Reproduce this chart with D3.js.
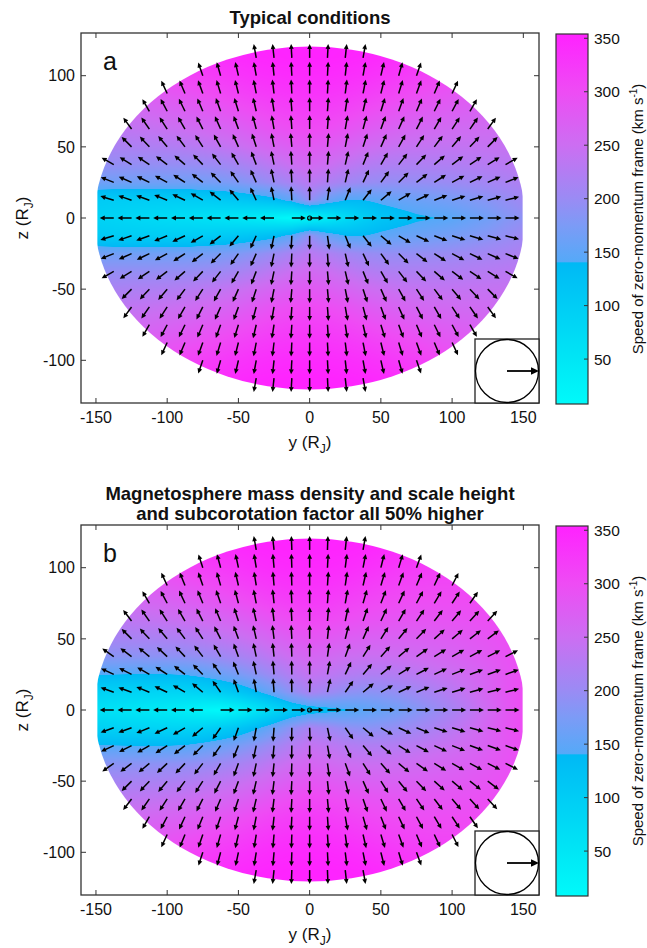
<!DOCTYPE html>
<html>
<head>
<meta charset="utf-8">
<script src="https://cdn.jsdelivr.net/npm/d3@7"></script>
<style>
  body { margin: 0; background: #fff; }
  svg text { font-family: "Liberation Sans", Arial, Helvetica, sans-serif; fill: #111; }
</style>
</head>
<body>
<svg id="fig" width="647" height="948"></svg>
<script>
// ---- data ----
// speed grid (km/s), upper half z >= 0; the lower half mirrors it
const SPEED_COLS = [-150,-137.5,-125,-112.5,-100,-87.5,-75,-62.5,-50,-37.5,-25,-12.5,0,12.5,25,37.5,50,62.5,75,87.5,100,112.5,125,137.5,150];
const SPEED_ROWS = [0,12.5,25,37.5,50,62.5,75,87.5,100,112.5,125];

const SPEED_A = [
  [ 90, 85, 80, 75, 70, 65, 60, 55, 48, 38, 25, 12, 15, 40, 70, 95,115,125,135,140,145,155,165,180,190],
  [105,102,100,100,100,100,102,106,112,120,130,150,195,160,140,140,148,155,160,165,170,177,185,195,205],
  [165,165,165,165,165,165,168,172,178,188,200,215,232,220,208,200,196,195,196,198,201,205,210,215,220],
  [195,195,195,195,196,197,200,204,212,222,235,248,258,250,238,228,222,220,220,221,222,225,228,231,234],
  [215,216,218,220,222,226,231,237,245,255,265,275,282,275,265,255,248,243,241,240,240,241,242,243,245],
  [235,236,238,241,245,250,256,263,270,280,290,298,303,298,290,280,272,265,260,257,255,254,253,252,252],
  [250,252,255,259,264,270,277,285,293,301,309,315,318,315,309,301,293,286,280,275,271,268,265,263,262],
  [265,268,272,277,283,290,297,305,313,320,326,330,332,330,326,320,313,306,299,292,286,280,276,273,270],
  [280,284,289,295,302,309,316,323,330,336,340,343,344,343,340,336,330,323,316,309,302,295,289,284,280],
  [295,300,306,312,318,325,332,338,343,347,350,352,353,352,350,347,343,338,332,325,318,312,306,300,295],
  [310,316,322,328,334,340,345,348,350,352,353,353,353,353,353,352,350,348,345,340,334,328,322,316,310]
];
const SPEED_B = [
  [ 60, 55, 50, 45, 40, 32, 18, 10, 25, 50, 80,105,120,130,138,146,155,165,180,195,212,232,255,280,300],
  [ 92, 90, 88, 86, 85, 85, 90,100,115,135,160,190,215,205,192,187,190,196,205,216,230,246,265,285,300],
  [142,141,140,140,140,142,150,160,172,187,205,225,242,236,227,222,222,226,232,240,248,258,270,285,298],
  [185,186,187,188,189,191,196,203,212,223,238,252,263,257,250,247,247,250,254,259,265,272,280,290,300],
  [210,211,213,215,217,221,227,234,242,252,264,276,286,281,274,270,268,268,270,273,277,282,288,295,302],
  [230,232,235,238,242,247,253,260,268,278,289,299,306,302,296,291,288,286,286,287,289,292,296,300,305],
  [248,251,255,259,264,270,277,285,293,302,311,318,322,319,313,307,302,299,297,297,298,300,303,306,310],
  [265,268,272,277,283,290,297,305,313,321,328,333,335,333,328,322,316,311,308,306,306,307,309,312,315],
  [280,284,289,295,302,309,316,323,330,337,342,345,346,345,342,337,331,325,320,317,316,316,318,320,322],
  [295,300,306,312,318,325,332,338,343,347,350,352,353,352,350,347,343,338,333,329,326,325,326,327,328],
  [310,316,322,328,334,340,345,348,350,352,353,353,353,353,353,352,350,348,345,341,337,335,334,334,334]
];

// arrow directions (degrees counter-clockwise from +y), upper half; lower half mirrors
const ARROW_COLS = [-137.5,-125,-112.5,-100,-87.5,-75,-62.5,-50,-37.5,-25,-12.5,0,12.5,25,37.5,50,62.5,75,87.5,100,112.5,125,137.5];
const ARROW_ROWS = [0,12.5,25,37.5,50,62.5,75,87.5,100,112.5];
const _ = null;

const ANGLE_A = [
  [180,180,180,180,180,180,180,180,180,180,0,0,0,0,0,0,0,0,0,0,0,0,0],
  [163,161,160,158,155,150,142,130,115,102,93,90,82,68,52,40,31,25,21,18,16,15,14],
  [158,156,154,151,147,142,135,125,114,102,93,90,86,77,65,54,45,38,33,29,26,24,22],
  [150,148,146,143,139,134,128,120,111,102,94,90,85,77,68,60,52,46,41,37,34,32,30],
  [_,135,133,130,127,123,119,114,108,101,95,90,85,79,72,66,61,57,53,50,47,45,_],
  [_,126,125,123,120,117,114,110,105,100,94,90,86,80,75,70,66,63,60,57,55,54,_],
  [_,_,120,118,116,113,110,107,103,99,94,90,86,81,77,73,70,67,64,62,60,_,_],
  [_,_,_,115,113,110,107,104,101,97,93,90,87,83,79,76,73,70,67,65,_,_,_],
  [_,_,_,_,_,109,106,103,100,96,93,90,87,84,80,77,74,71,_,_,_,_,_],
  [_,_,_,_,_,_,_,_,100,96,93,90,87,84,80,_,_,_,_,_,_,_,_]
];
const ANGLE_B = [
  [180,180,180,180,180,180,0,0,0,0,0,0,0,0,0,0,0,0,0,0,0,0,0],
  [160,160,158,155,150,140,125,110,100,94,91,88,78,55,40,30,25,22,18,17,15,14,14],
  [155,153,150,147,142,135,125,112,102,95,91,90,80,65,50,40,32,28,25,22,20,20,20],
  [145,143,140,137,133,128,120,110,102,96,92,90,82,70,58,48,40,35,32,30,28,27,27],
  [_,135,133,130,127,123,117,110,103,97,93,90,84,76,66,58,51,46,42,40,38,37,_],
  [_,127,125,123,120,117,113,108,103,97,93,90,85,78,71,65,60,56,53,50,48,47,_],
  [_,_,120,118,115,112,109,105,101,96,93,90,86,80,74,69,65,62,59,57,55,_,_],
  [_,_,_,115,112,109,106,103,99,95,92,90,86,82,77,73,70,67,65,63,_,_,_],
  [_,_,_,_,_,108,105,102,99,95,92,90,87,83,79,76,73,70,_,_,_,_,_],
  [_,_,_,_,_,_,_,_,100,96,92,90,88,84,80,_,_,_,_,_,_,_,_]
];

const Y_TICKS = [-150,-100,-50,0,50,100,150];
const Z_TICKS = [-100,-50,0,50,100];
const CBAR_TICKS = [50,100,150,200,250,300,350];
const CBAR_DOMAIN = [8, 354];
const CMAP_VALUES = [8, 50, 100, 140, 141, 175, 200, 250, 300, 354];
const CMAP_COLORS = ['#00fafa','#00e6f5','#00cdf5','#00b9f5','#55a9f8','#7c9bf6','#9a8bf4','#cc6ef2','#ee4cf4','#ff22ff'];

// ---- layout ----
const svg = d3.select('#fig');
const x = d3.scaleLinear().domain([-160.5, 161]).range([81, 539]);
const z = d3.scaleLinear().domain([-130, 130]).range([403, 33]);
const cb = d3.scaleLinear().domain(CBAR_DOMAIN).range([404, 34]);
const color = d3.scaleLinear().domain(CMAP_VALUES).range(CMAP_COLORS).clamp(true);
// grid index scales for the speed table
const colIdx = d3.scaleLinear().domain([SPEED_COLS[0], SPEED_COLS[SPEED_COLS.length - 1]]).range([0, SPEED_COLS.length - 1]).clamp(true);
const rowIdx = d3.scaleLinear().domain([0, SPEED_ROWS[SPEED_ROWS.length - 1]]).range([0, SPEED_ROWS.length - 1]).clamp(true);

const panels = [
  { key: 'a', dy: 0,   speed: SPEED_A, angle: ANGLE_A,
    title: ['Typical conditions'], titleY: [24] },
  { key: 'b', dy: 492, speed: SPEED_B, angle: ANGLE_B,
    title: ['Magnetosphere mass density and scale height', 'and subcorotation factor all 50% higher'],
    titleY: [8, 28] }
];

const defs = svg.append('defs');

// colorbar gradient
const grad = defs.append('linearGradient').attr('id', 'cbgrad')
  .attr('x1', 0).attr('y1', 1).attr('x2', 0).attr('y2', 0);
CMAP_VALUES.forEach((v, i) => {
  grad.append('stop')
    .attr('offset', (v - CBAR_DOMAIN[0]) / (CBAR_DOMAIN[1] - CBAR_DOMAIN[0]))
    .attr('stop-color', CMAP_COLORS[i]);
});

// paint the speed table onto a canvas, one canvas pixel per screen pixel
function fieldImage(speed) {
  const [px0, px1] = x.range(), [py1, py0] = z.range();
  const w = px1 - px0, h = py1 - py0;
  const cv = document.createElement('canvas');
  cv.width = w; cv.height = h;
  const ctx = cv.getContext('2d');
  const img = ctx.createImageData(w, h);
  for (let j = 0; j < h; j++) {
    const fr = rowIdx(Math.abs(z.invert(py0 + j + 0.5)));
    const r0 = Math.floor(fr), r1 = Math.min(r0 + 1, SPEED_ROWS.length - 1), tr = fr - r0;
    for (let i = 0; i < w; i++) {
      const fc = colIdx(x.invert(px0 + i + 0.5));
      const c0 = Math.floor(fc), c1 = Math.min(c0 + 1, SPEED_COLS.length - 1), tc = fc - c0;
      const v = (speed[r0][c0] * (1 - tc) + speed[r0][c1] * tc) * (1 - tr) +
                (speed[r1][c0] * (1 - tc) + speed[r1][c1] * tc) * tr;
      const col = d3.rgb(color(v));
      const k = (j * w + i) * 4;
      img.data[k] = col.r; img.data[k + 1] = col.g; img.data[k + 2] = col.b; img.data[k + 3] = 255;
    }
  }
  ctx.putImageData(img, 0, 0);
  return cv.toDataURL();
}

function arrow(g, px, py, deg, len, head, half, sw) {
  const t = deg * Math.PI / 180;
  const ux = Math.cos(t), uy = -Math.sin(t);
  const tx = px + ux * len, ty = py + uy * len;
  const bx = tx - ux * head, by = ty - uy * head;
  g.append('line')
    .attr('x1', px).attr('y1', py).attr('x2', bx + ux * 0.5).attr('y2', by + uy * 0.5)
    .attr('stroke', '#000').attr('stroke-width', sw);
  g.append('path')
    .attr('d', `M${tx},${ty}L${bx - uy * half},${by + ux * half}L${bx + uy * half},${by - ux * half}Z`)
    .attr('fill', '#000');
}

panels.forEach(p => {
  const g = svg.append('g').attr('transform', `translate(0,${p.dy})`);

  // title
  p.title.forEach((t, i) => {
    g.append('text').attr('x', 310).attr('y', p.titleY[i])
      .attr('text-anchor', 'middle').attr('font-size', 18.5).attr('font-weight', 'bold').text(t);
  });

  // field, clipped to the magnetosphere cross-section
  defs.append('clipPath').attr('id', 'ell-' + p.key)
    .append('ellipse').attr('cx', x(0)).attr('cy', z(0))
    .attr('rx', x(151) - x(0)).attr('ry', z(0) - z(120.5));
  defs.append('clipPath').attr('id', 'box-' + p.key)
    .append('rect').attr('x', x(-149)).attr('y', z(130)).attr('width', x(149.5) - x(-149)).attr('height', z(-130) - z(130));
  g.append('g').attr('clip-path', `url(#box-${p.key})`)
    .append('image')
    .attr('clip-path', `url(#ell-${p.key})`)
    .attr('href', fieldImage(p.speed))
    .attr('x', x.range()[0]).attr('y', z.range()[1])
    .attr('width', x.range()[1] - x.range()[0]).attr('height', z.range()[0] - z.range()[1])
    .attr('preserveAspectRatio', 'none');

  // arrows
  const ga = g.append('g');
  ARROW_ROWS.forEach((zv, ri) => {
    ARROW_COLS.forEach((yv, ci) => {
      const a = p.angle[ri][ci];
      if (a === null) return;
      arrow(ga, x(yv), z(zv), a, 14, 5, 2.4, 1.5);
      if (zv > 0) arrow(ga, x(yv), z(-zv), -a, 14, 5, 2.4, 1.5);
    });
  });
  ga.append('circle').attr('cx', x(0)).attr('cy', z(0)).attr('r', 2)
    .attr('fill', 'none').attr('stroke', '#000').attr('stroke-width', 1.2);

  // frame + ticks
  const [x0, x1] = x.range(), [y1, y0] = z.range();
  g.append('rect').attr('x', x0).attr('y', y0).attr('width', x1 - x0).attr('height', y1 - y0)
    .attr('fill', 'none').attr('stroke', '#333').attr('stroke-width', 1.3);
  Y_TICKS.forEach(v => {
    g.append('line').attr('x1', x(v)).attr('x2', x(v)).attr('y1', y1).attr('y2', y1 - 5).attr('stroke', '#333');
    g.append('line').attr('x1', x(v)).attr('x2', x(v)).attr('y1', y0).attr('y2', y0 + 5).attr('stroke', '#333');
    g.append('text').attr('x', x(v)).attr('y', 423).attr('text-anchor', 'middle').attr('font-size', 16).text(String(v));
  });
  Z_TICKS.forEach(v => {
    g.append('line').attr('x1', x0).attr('x2', x0 + 5).attr('y1', z(v)).attr('y2', z(v)).attr('stroke', '#333');
    g.append('line').attr('x1', x1).attr('x2', x1 - 5).attr('y1', z(v)).attr('y2', z(v)).attr('stroke', '#333');
    g.append('text').attr('x', 75).attr('y', z(v)).attr('dy', '0.36em').attr('text-anchor', 'end').attr('font-size', 16).text(String(v));
  });

  // axis labels
  const xl = g.append('text').attr('x', 310).attr('y', 448).attr('text-anchor', 'middle').attr('font-size', 17);
  xl.append('tspan').text('y (R');
  xl.append('tspan').attr('dy', 5).attr('font-size', 12).text('J');
  xl.append('tspan').attr('dy', -5).text(')');
  const zl = g.append('text').attr('transform', `translate(28,${z(0)}) rotate(-90)`).attr('text-anchor', 'middle').attr('font-size', 17);
  zl.append('tspan').text('z (R');
  zl.append('tspan').attr('dy', 5).attr('font-size', 12).text('J');
  zl.append('tspan').attr('dy', -5).text(')');

  // panel letter
  g.append('text').attr('x', 103).attr('y', 70).attr('font-size', 25).text(p.key);

  // direction inset
  const ins = g.append('g');
  ins.append('rect').attr('x', 475).attr('y', 339).attr('width', 64).attr('height', 64)
    .attr('fill', '#fff').attr('stroke', '#222').attr('stroke-width', 1.3);
  ins.append('circle').attr('cx', 507).attr('cy', 371).attr('r', 31.5)
    .attr('fill', 'none').attr('stroke', '#000').attr('stroke-width', 1.3);
  arrow(ins, 507, 371, 0, 32, 8, 3.8, 1.8);

  // colorbar
  const [cb1, cb0] = cb.range();
  g.append('rect').attr('x', 556).attr('y', cb0).attr('width', 32).attr('height', cb1 - cb0)
    .attr('fill', 'url(#cbgrad)').attr('stroke', '#333').attr('stroke-width', 1.2);
  CBAR_TICKS.forEach(v => {
    g.append('line').attr('x1', 584).attr('x2', 588).attr('y1', cb(v)).attr('y2', cb(v)).attr('stroke', '#333');
    g.append('text').attr('x', 594).attr('y', cb(v)).attr('dy', '0.36em').attr('font-size', 15.5).text(String(v));
  });
  const cl = g.append('text').attr('transform', `translate(643,${(cb0 + cb1) / 2}) rotate(-90)`)
    .attr('text-anchor', 'middle').attr('font-size', 15);
  cl.append('tspan').text('Speed of zero-momentum frame (km s');
  cl.append('tspan').attr('dy', -6).attr('font-size', 10).text('-1');
  cl.append('tspan').attr('dy', 6).text(')');
});
</script>
</body>
</html>
